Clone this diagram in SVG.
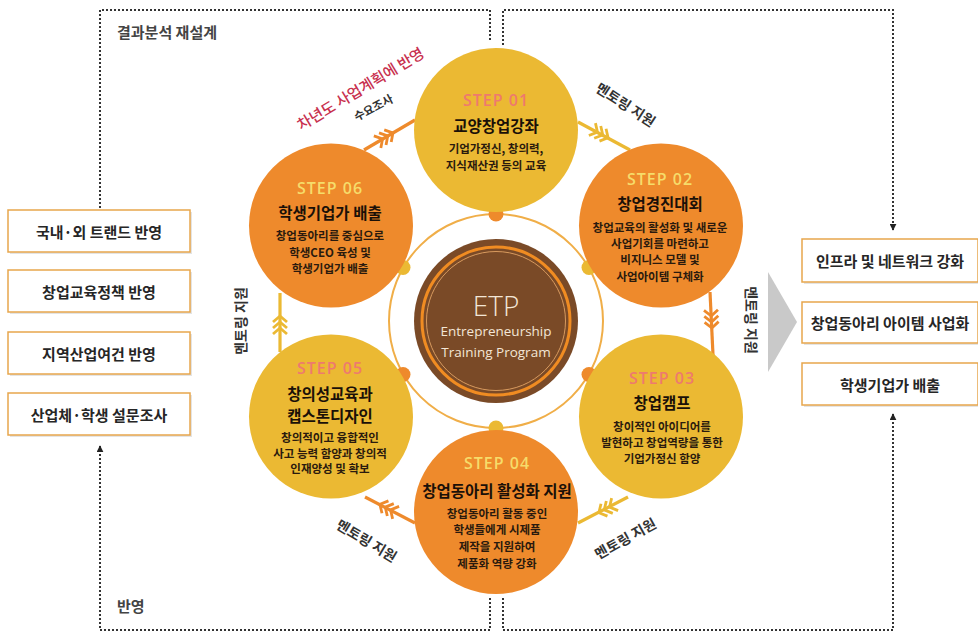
<svg xmlns="http://www.w3.org/2000/svg" xmlns:xlink="http://www.w3.org/1999/xlink" width="978" height="634" viewBox="0 0 978 634">
<style>
.kr{font-family:"Noto Sans CJK KR","Noto Sans",sans-serif;}
.c{text-anchor:middle;dominant-baseline:central;}
.dotl{fill:none;stroke:#333;stroke-width:2;stroke-dasharray:2 2;}
.box{fill:#fff;stroke:#E7A64C;stroke-width:1.5;}
.sh{fill:#e4e4e4;}
.btxt{font-size:15px;fill:#262626;font-weight:600;}
.step{font-family:"Open Sans","Liberation Sans",sans-serif;font-weight:600;font-size:16px;letter-spacing:1px;}
.sy{fill:#F6DC6A;}
.sp{fill:#EE7A6E;}
.ttl{font-size:15.5px;font-weight:700;fill:#1a1008;}
.dsc{font-size:11.5px;fill:#2a1a0e;font-weight:600;}
.lbl{font-size:14px;fill:#333;font-weight:600;}
.yc{fill:#EBB933;}
.oc{fill:#EE8A2C;}
</style>
<defs>
<marker id="ah" viewBox="0 0 10 10" refX="9" refY="5" markerWidth="7" markerHeight="7" orient="auto" markerUnits="userSpaceOnUse">
<path d="M0,0 L10,5 L0,10 Z" fill="#222"/>
</marker>
<path id="chevO" d="M-10,-7 L-4,0 L-10,7 M-4,-7 L2,0 L-4,7 M2,-7 L8,0 L2,7" fill="none" stroke="#EE8A2C" stroke-width="2.8"/>
<path id="chevY" d="M-10,-7 L-4,0 L-10,7 M-4,-7 L2,0 L-4,7 M2,-7 L8,0 L2,7" fill="none" stroke="#EBB933" stroke-width="2.8"/>
</defs>

<!-- dotted frames -->
<g id="frames">
<path class="dotl" d="M100,208 V10 H490 V40"/>
<path class="dotl" d="M503,45 V10 H893 V230" marker-end="url(#ah)"/>
<path class="dotl" d="M490,598 V630 H100 V446" marker-end="url(#ah)"/>
<path class="dotl" d="M503,598 V630 H893 V414" marker-end="url(#ah)"/>
<text class="kr" x="117" y="38" font-size="15" font-weight="600" fill="#444">결과분석 재설계</text>
<text class="kr" x="117" y="612" font-size="15" font-weight="600" fill="#444">반영</text>
</g>

<!-- left boxes -->
<g id="left-box-1">
<rect class="sh" x="10" y="212" width="182" height="42"/>
<rect class="box" x="8" y="210" width="182" height="42"/>
<text class="kr c btxt" x="99" y="231">국내·외 트랜드 반영</text>
</g>
<g id="left-box-2">
<rect class="sh" x="10" y="272" width="182" height="42"/>
<rect class="box" x="8" y="270" width="182" height="42"/>
<text class="kr c btxt" x="99" y="291">창업교육정책 반영</text>
</g>
<g id="left-box-3">
<rect class="sh" x="10" y="334" width="182" height="42"/>
<rect class="box" x="8" y="332" width="182" height="42"/>
<text class="kr c btxt" x="99" y="353">지역산업여건 반영</text>
</g>
<g id="left-box-4">
<rect class="sh" x="10" y="395" width="182" height="42"/>
<rect class="box" x="8" y="393" width="182" height="42"/>
<text class="kr c btxt" x="99" y="414">산업체·학생 설문조사</text>
</g>

<!-- right boxes -->
<g id="right-box-1">
<rect class="sh" x="804" y="241" width="176" height="43"/>
<rect class="box" x="802" y="239" width="176" height="43"/>
<text class="kr c btxt" x="890" y="260.5">인프라 및 네트워크 강화</text>
</g>
<g id="right-box-2">
<rect class="sh" x="804" y="304" width="176" height="41"/>
<rect class="box" x="802" y="302" width="176" height="41"/>
<text class="kr c btxt" x="890" y="322.5">창업동아리 아이템 사업화</text>
</g>
<g id="right-box-3">
<rect class="sh" x="804" y="365" width="176" height="42"/>
<rect class="box" x="802" y="363" width="176" height="42"/>
<text class="kr c btxt" x="890" y="384">학생기업가 배출</text>
</g>
<g id="big-arrow">
<path d="M768,272 L797,322 L768,372 Z" fill="#C9C9C9"/>
</g>

<!-- center -->
<g id="etp">
<circle cx="496" cy="321" r="107" fill="none" stroke="#F0AE48" stroke-width="2"/>
<circle cx="496" cy="321" r="82" fill="#7A4A27"/>
<circle cx="496" cy="321" r="74" fill="none" stroke="#F08C22" stroke-width="3"/>
<circle cx="496" cy="321" r="69.5" fill="none" stroke="#D89A5E" stroke-width="1"/>
<text class="c" x="496" y="305" font-family="'Open Sans','Liberation Sans',sans-serif" font-size="28" font-weight="300" fill="#F3E6D6">ETP</text>
<text class="c" x="496" y="331" font-family="'Open Sans','Liberation Sans',sans-serif" font-size="13.5" fill="#F3E6D6">Entrepreneurship</text>
<text class="c" x="496" y="352" font-family="'Open Sans','Liberation Sans',sans-serif" font-size="13.5" fill="#F3E6D6">Training Program</text>
<circle cx="496" cy="214" r="7.5" class="oc"/>
<circle cx="589" cy="267.5" r="7.5" class="yc"/>
<circle cx="589" cy="374.5" r="7.5" class="oc"/>
<circle cx="496" cy="428" r="7.5" class="yc"/>
<circle cx="403" cy="374.5" r="7.5" class="oc"/>
<circle cx="403" cy="267.5" r="7.5" class="yc"/>
</g>

<!-- connectors -->
<g id="connectors">
<line x1="364" y1="150" x2="415" y2="120" stroke="#EE8A2C" stroke-width="3.2"/>
<use href="#chevO" transform="translate(386,137) rotate(-30)"/>
<line x1="578" y1="122" x2="630" y2="150" stroke="#EBB933" stroke-width="3.2"/>
<use href="#chevY" transform="translate(601,134) rotate(28)"/>
<line x1="710" y1="292" x2="713" y2="355" stroke="#EE8A2C" stroke-width="3.2"/>
<use href="#chevO" transform="translate(711.5,320) rotate(87)"/>
<line x1="628" y1="497" x2="578" y2="523" stroke="#EBB933" stroke-width="3.2"/>
<use href="#chevY" transform="translate(606,509) rotate(152.5)"/>
<line x1="415" y1="523" x2="365" y2="497" stroke="#EE8A2C" stroke-width="3.2"/>
<use href="#chevO" transform="translate(387,508) rotate(-152.5)"/>
<line x1="280" y1="352" x2="280" y2="293" stroke="#EBB933" stroke-width="3.2"/>
<use href="#chevY" transform="translate(280,324) rotate(-90)"/>
<text class="kr c lbl" transform="translate(626,104) rotate(33)">멘토링 지원</text>
<text class="kr c lbl" transform="translate(752,320) rotate(90)">멘토링 지원</text>
<text class="kr c lbl" transform="translate(625,538) rotate(-29)">멘토링 지원</text>
<text class="kr c lbl" transform="translate(367,540) rotate(31)">멘토링 지원</text>
<text class="kr c lbl" transform="translate(240,321) rotate(-90)">멘토링 지원</text>
<text class="kr c" transform="translate(360,88) rotate(-31)" font-size="15" font-weight="500" fill="#C8304E">차년도 사업계획에 반영</text>
<text class="kr c" transform="translate(373,107) rotate(-28)" font-size="11.5" font-weight="600" fill="#333">수요조사</text>
</g>

<!-- steps -->
<g id="step-01">
<circle cx="496" cy="130" r="82" class="yc"/>
<text class="step c sp" x="496" y="100">STEP 01</text>
<text class="kr c ttl" x="496" y="125">교양창업강좌</text>
<text class="kr c dsc" x="496" y="148">기업가정신, 창의력,</text>
<text class="kr c dsc" x="496" y="165">지식재산권 등의 교육</text>
</g>
<g id="step-02">
<circle cx="661" cy="225.5" r="82" class="oc"/>
<text class="step c sy" x="660" y="179">STEP 02</text>
<text class="kr c ttl" x="660" y="203">창업경진대회</text>
<text class="kr c dsc" x="660" y="227">창업교육의 활성화 및 새로운</text>
<text class="kr c dsc" x="660" y="243">사업기회를 마련하고</text>
<text class="kr c dsc" x="660" y="259">비지니스 모델 및</text>
<text class="kr c dsc" x="660" y="276">사업아이템 구체화</text>
</g>
<g id="step-03">
<circle cx="661" cy="416.5" r="82" class="yc"/>
<text class="step c sp" x="662" y="378">STEP 03</text>
<text class="kr c ttl" x="662" y="402">창업캠프</text>
<text class="kr c dsc" x="662" y="426">창이적인 아이디어를</text>
<text class="kr c dsc" x="662" y="442">발현하고 창업역량을 통한</text>
<text class="kr c dsc" x="662" y="458">기업가정신 함양</text>
</g>
<g id="step-04">
<circle cx="496" cy="512" r="82" class="oc"/>
<text class="step c sy" x="497" y="463">STEP 04</text>
<text class="kr c ttl" x="497" y="490" font-size="14.5">창업동아리 활성화 지원</text>
<text class="kr c dsc" x="497" y="513">창업동아리 활동 중인</text>
<text class="kr c dsc" x="497" y="529">학생들에게 시제품</text>
<text class="kr c dsc" x="497" y="546">제작을 지원하여</text>
<text class="kr c dsc" x="497" y="563">제품화 역량 강화</text>
</g>
<g id="step-05">
<circle cx="331" cy="416.5" r="82" class="yc"/>
<text class="step c sp" x="330" y="368">STEP 05</text>
<text class="kr c ttl" x="330" y="393">창의성교육과</text>
<text class="kr c ttl" x="330" y="415">캡스톤디자인</text>
<text class="kr c dsc" x="330" y="437">창의적이고 융합적인</text>
<text class="kr c dsc" x="330" y="453">사고 능력 함양과 창의적</text>
<text class="kr c dsc" x="330" y="468">인재양성 및 확보</text>
</g>
<g id="step-06">
<circle cx="331" cy="225.5" r="82" class="oc"/>
<text class="step c sy" x="330" y="188">STEP 06</text>
<text class="kr c ttl" x="330" y="212">학생기업가 배출</text>
<text class="kr c dsc" x="330" y="235">창업동아리를 중심으로</text>
<text class="kr c dsc" x="330" y="252">학생CEO 육성 및</text>
<text class="kr c dsc" x="330" y="268">학생기업가 배출</text>
</g>
</svg>
